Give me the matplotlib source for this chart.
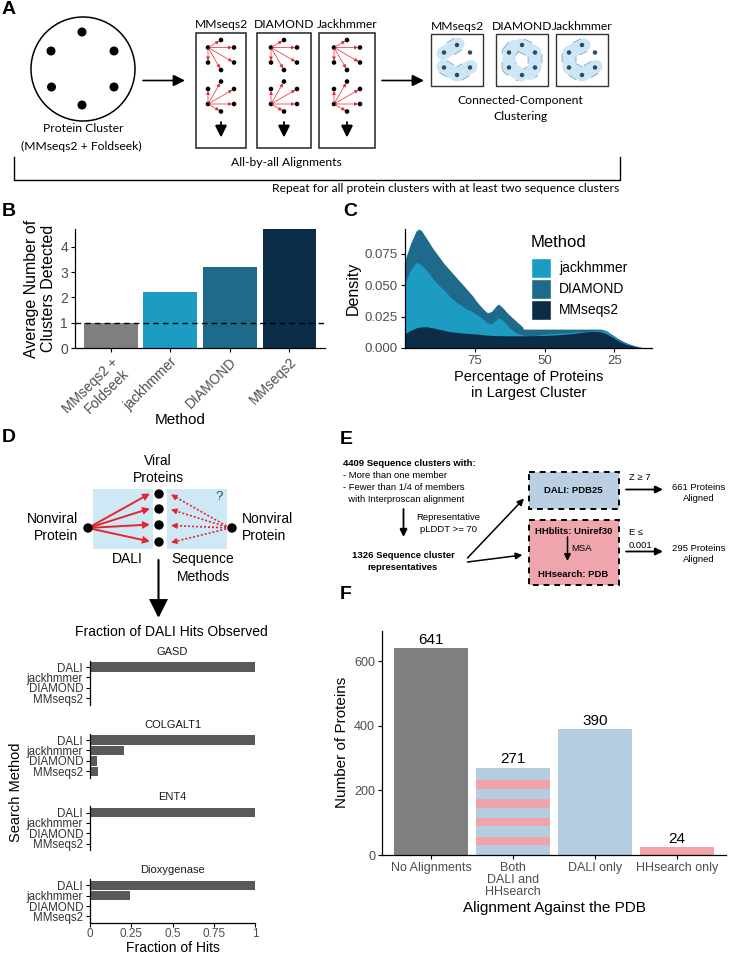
import numpy as np
import matplotlib.pyplot as plt
from matplotlib.patches import Rectangle, Circle, FancyArrowPatch

plt.rcParams['font.family'] = ['Liberation Sans', 'DejaVu Sans']

W, H = 732, 955

# panel B: average number of clusters
b_methods = ['MMseqs2 +\nFoldseek', 'jackhmmer', 'DIAMOND', 'MMseqs2']
b_values = [1.0, 2.23, 3.19, 4.71]

# panel C: density of percentage of proteins in largest cluster
c_pct = [100, 98, 96, 95, 94, 92, 90, 88, 86, 84, 82, 80, 78, 76, 74, 72, 70.5, 69,
         67.5, 66.5, 65, 63, 61, 59, 58, 57.5, 55, 50, 45, 40, 35, 32, 30, 28, 26, 24,
         22, 20, 18, 16, 14]
c_diamond = [.070, .083, .093, .0945, .093, .086, .079, .073, .067, .062, .057, .052,
             .047, .042, .036, .031, .028, .029, .033, .035, .032, .027, .023, .019,
             .017, .015, .015, .015, .015, .015, .015, .015, .015, .014, .011, .008,
             .0055, .0035, .002, .0008, 0]
c_jackhmmer = [.052, .062, .068, .067, .066, .061, .055, .050, .046, .041, .037, .034,
               .031, .029, .026, .023, .020, .019, .022, .024, .022, .017, .013, .011,
               .0105, .010, .0098, .011, .0118, .0125, .013, .0138, .014, .0135, .010,
               .007, .0045, .003, .0018, .0007, 0]
c_mmseqs2 = [.0115, .014, .016, .0165, .0168, .0168, .016, .015, .014, .013, .0125,
             .012, .0117, .0113, .011, .0105, .0102, .010, .0099, .0098, .0098, .0097,
             .0097, .0097, .0097, .0097, .0098, .010, .0105, .0115, .0128, .0133, .013,
             .0115, .009, .0062, .004, .0025, .0014, .0006, 0]

# panel D: fraction of DALI hits observed
d_genes = ['GASD', 'COLGALT1', 'ENT4', 'Dioxygenase']
d_methods = ['DALI', 'jackhmmer', 'DIAMOND', 'MMseqs2']
d_fractions = [[1, 0, 0, 0],
               [1, 0.204, 0.042, 0.05],
               [1, 0, 0, 0],
               [1, 0.242, 0, 0]]

# panel F: alignment against the PDB
f_cats = ['No Alignments', 'Both\nDALI and\nHHsearch', 'DALI only', 'HHsearch only']
f_values = [641, 271, 390, 24]

gray = '#7f7f7f'
c_jack = '#1c9cc3'
c_diam = '#1d6a8b'
c_mm = '#0b2d47'
blue_l = '#b4cde1'
pink = '#f0a3ab'
red = '#e5262c'
tick_col = '#4d4d4d'

fig = plt.figure(figsize=(W / 100, H / 100), dpi=100)


def px_axes(x0, y0, x1, y1):
    return fig.add_axes([x0 / W, 1 - y1 / H, (x1 - x0) / W, (y1 - y0) / H])


def classic(ax, fs):
    for s in ['top', 'right']:
        ax.spines[s].set_visible(False)
    for s in ['left', 'bottom']:
        ax.spines[s].set_linewidth(0.9)
    ax.tick_params(length=3, width=0.8, labelsize=fs, labelcolor=tick_col, pad=2)


# overlay for diagrams and panel letters
ov = fig.add_axes([0, 0, 1, 1], zorder=5)
ov.set_xlim(0, W)
ov.set_ylim(H, 0)
ov.axis('off')


def arrow(x0, y0, x1, y1, color='k', lw=1.2, ms=10, hl=0.5, hw=0.25):
    ov.add_patch(FancyArrowPatch((x0, y0), (x1, y1),
                                 arrowstyle=f'-|>,head_length={hl},head_width={hw}',
                                 mutation_scale=ms, color=color, lw=lw,
                                 shrinkA=0, shrinkB=0, joinstyle='miter'))


def letter(x, y, s):
    ov.text(x, y, s, fontsize=14, fontweight='bold', ha='left', va='center')


fa = dict(family=['Lato', 'DejaVu Sans'], fontsize=8.7, ha='center', va='center')

# ---------------- Panel A ----------------
letter(2, 10, 'A')
ov.add_patch(Circle((83, 69), 52, fill=False, lw=1.1, ec='k'))
for (x, y) in [(82, 32), (51, 51), (114, 51), (51.5, 87), (114, 87), (82, 105)]:
    ov.add_patch(Circle((x, y), 3.8, color='k'))
ov.text(83, 129, 'Protein Cluster', **fa)
ov.text(81, 146, '(MMseqs2 + Foldseek)', **fa)
arrow(143, 80.5, 185, 80.5, lw=1.2, ms=14)

hexo = [(0, -15), (-13, -7.5), (13, -7.5), (-13, 7.5), (13, 7.5), (0, 15)]
for x0, x1, lab in [(196, 246, 'MMseqs2'), (257, 311, 'DIAMOND'), (319, 375, 'Jackhmmer')]:
    cx = (x0 + x1) / 2
    ov.add_patch(Rectangle((x0, 33), x1 - x0, 115, fill=False, lw=1.1, ec='#222222'))
    ov.text(cx, 25, lab, **fa)
    for cy, src in [(55, 1), (96.5, 3)]:
        pts = [(cx + dx, cy + dy) for dx, dy in hexo]
        for (x, y) in pts:
            ov.add_patch(Circle((x, y), 1.6, color='k'))
        sx, sy = pts[src]
        for j, (x, y) in enumerate(pts):
            if j == src:
                continue
            ov.add_patch(FancyArrowPatch((sx, sy), (x, y), arrowstyle='-|>,head_length=0.5,head_width=0.25',
                                         mutation_scale=4, color=red, lw=0.5,
                                         shrinkA=1, shrinkB=1.5))
    arrow(cx, 122, cx, 137.5, lw=1.3, ms=12, hl=0.6, hw=0.3)

arrow(382, 80.5, 424, 80.5, lw=1.2, ms=14)

blob_fill = '#cde6f5'
blob_edge = '#7f9db5'


def blob(pts, w=9.5):
    xs = [p[0] for p in pts]
    ys = [p[1] for p in pts]
    ov.plot(xs, ys, color=blob_edge, lw=w + 1.1, solid_capstyle='round',
            solid_joinstyle='round', ls=(0, (0.6, 0.6)))
    ov.plot(xs, ys, color=blob_fill, lw=w, solid_capstyle='round', solid_joinstyle='round')


for x0, lab in [(431, 'MMseqs2'), (496, 'DIAMOND'), (556, 'Jackhmmer')]:
    cx, cy = x0 + 26, 60
    ov.add_patch(Rectangle((x0, 34), 52, 52, fill=False, lw=1.0, ec='#333333'))
    ov.text(cx, 26, lab, **fa)
    T, LT, RT, LB, RB, B = [(cx + dx, cy + dy) for dx, dy in hexo]
    if lab == 'MMseqs2':
        blob([(T[0] + 1, T[1] - 1), (LT[0] - 1, LT[1] + 1)])
        blob([RT, (RT[0] + 0.01, RT[1])], w=6.5)
        blob([(LB[0] - 1, LB[1] - 1), B, (RB[0] + 1, RB[1] - 1)])
    elif lab == 'DIAMOND':
        blob([(LT[0] + 5, LT[1] - 6), LT, LB, (B[0] - 1, B[1])])
        blob([(T[0] - 1, T[1]), RT, RB, (RB[0] - 5, RB[1] + 6)])
    else:
        blob([(T[0] + 2, T[1]), LT, LB, B, (RB[0] + 1, RB[1] - 1)])
        blob([RT, (RT[0] + 0.01, RT[1])], w=6.5)
    for (x, y) in [T, LT, RT, LB, RB, B]:
        ov.add_patch(Circle((x, y), 1.5, color='#2a4a5e', zorder=6))

ov.text(520, 100, 'Connected-Component', **fa)
ov.text(520, 116, 'Clustering', **fa)
ov.text(286, 163, 'All-by-all Alignments', **fa)
ov.plot([14, 14, 620, 620], [157, 180, 180, 157], color='k', lw=1.0)
ov.text(619, 189, 'Repeat for all protein clusters with at least two sequence clusters',
        **{**fa, 'ha': 'right'})

# ---------------- Panel B ----------------
letter(2, 211, 'B')
ax_b = px_axes(75, 229, 325, 348)
xb = np.arange(1, len(b_values) + 1)
ax_b.bar(xb, b_values, width=0.9, color=[gray, c_jack, c_diam, c_mm])
ax_b.axhline(1, color='k', lw=1.0, ls=(0, (4, 3)))
ax_b.set_xlim(0.4, 4.6)
ax_b.set_ylim(0, max(b_values))
classic(ax_b, 10)
ax_b.set_yticks([0, 1, 2, 3, 4])
ax_b.set_xticks(xb, b_methods, rotation=45, ha='right', rotation_mode='anchor')
ax_b.set_ylabel('Average Number of\nClusters Detected', fontsize=11.5, labelpad=3)
ax_b.set_xlabel('Method', fontsize=11, va='center')
ax_b.xaxis.set_label_coords((180 - 75) / 250, -(420 - 348) / 119)

# ---------------- Panel C ----------------
letter(343, 211, 'C')
ax_c = px_axes(405, 229, 652, 348)
ax_c.fill_between(c_pct, c_diamond, color=c_diam, lw=0)
ax_c.fill_between(c_pct, c_jackhmmer, color=c_jack, lw=0)
ax_c.fill_between(c_pct, c_mmseqs2, color=c_mm, lw=0)
ax_c.set_xlim(100, 11.5)
ax_c.set_ylim(0, max(c_diamond))
classic(ax_c, 9.5)
ax_c.set_xticks([75, 50, 25])
ax_c.set_yticks([0, 0.025, 0.05, 0.075], ['0.000', '0.025', '0.050', '0.075'])
ax_c.set_ylabel('Density', fontsize=11.5, labelpad=3)
ax_c.set_xlabel('Percentage of Proteins\nin Largest Cluster', fontsize=10.5, labelpad=2)

ov.text(531, 242, 'Method', fontsize=12, ha='left', va='center')
for k, (lab, col) in enumerate([('jackhmmer', c_jack), ('DIAMOND', c_diam), ('MMseqs2', c_mm)]):
    ov.add_patch(Rectangle((531, 258 + 21 * k), 19.5, 20, fc=col, ec='white', lw=1))
    ov.text(559, 268 + 21 * k, lab, fontsize=10, ha='left', va='center')

# ---------------- Panel D ----------------
letter(2, 437, 'D')
blue_bg = '#cfe8f6'
ov.add_patch(Rectangle((93, 489), 60, 60, fc=blue_bg, ec='none', zorder=1))
ov.add_patch(Rectangle((167, 489), 60, 60, fc=blue_bg, ec='none', zorder=1))
fd = dict(fontsize=10, va='center')
ov.text(158, 461, 'Viral', ha='center', **fd)
ov.text(158, 478, 'Proteins', ha='center', **fd)
ov.text(78, 519, 'Nonviral', ha='right', **fd)
ov.text(78, 536, 'Protein', ha='right', **fd)
ov.text(242, 519, 'Nonviral', ha='left', **fd)
ov.text(242, 536, 'Protein', ha='left', **fd)
ov.text(127, 559, 'DALI', ha='center', **fd)
ov.text(203, 559, 'Sequence', ha='center', **fd)
ov.text(203, 577, 'Methods', ha='center', **fd)
ov.text(219, 497, '?', ha='center', fontsize=9.5, va='center', color='#24466a')
vy = [494, 509, 525, 542]
for y in vy:
    ov.add_patch(Circle((159, y), 4, color='k', zorder=4))
    arrow(88, 528, 150, y - 0.5, color=red, lw=1.4, ms=7)
    ex, ey = 171, y + 0.5
    ov.plot([230, ex + 4], [528, ey + (528 - ey) * 4 / 59], color=red, lw=1.2, ls=(0, (1.2, 1.2)))
    arrow(ex + 5, ey + (528 - ey) * 5 / 59, ex, ey, color=red, lw=0.8, ms=7)
ov.add_patch(Circle((88, 528), 4, color='k', zorder=4))
ov.add_patch(Circle((232, 528), 4, color='k', zorder=4))
arrow(158.5, 560, 158.5, 618, lw=1.5, ms=16, hl=0.7, hw=0.35)

fig.text(171 / W, 1 - 632 / H, 'Fraction of DALI Hits Observed', fontsize=10,
         ha='center', va='center')
tops = [660.8, 733.8, 806.3, 879]
for k, (gene, vals) in enumerate(zip(d_genes, d_fractions)):
    ax = px_axes(90, tops[k], 255, tops[k] + 43.7)
    ax.barh(np.arange(len(vals)), vals, height=0.9, color='#595959')
    ax.set_xlim(0, 1)
    ax.set_ylim(3.6, -0.6)
    classic(ax, 8.3)
    ax.set_yticks(np.arange(4), d_methods)
    ax.tick_params(axis='y', labelcolor='#333333')
    ax.set_title(gene, fontsize=8, pad=4.5, color='#1a1a1a')
    if k < 3:
        ax.spines['bottom'].set_visible(False)
        ax.set_xticks([])
    else:
        ax.set_xticks([0, 0.25, 0.5, 0.75, 1], ['0', '0.25', '0.5', '0.75', '1'])
        ax.tick_params(axis='x', labelsize=8.5, pad=1)
        ax.set_xlabel('Fraction of Hits', fontsize=10, va='center')
        ax.xaxis.set_label_coords(0.5, -(948 - tops[k] - 43.7) / 43.7)
fig.text(16 / W, 1 - 792 / H, 'Search Method', fontsize=10.5, rotation=90,
         ha='center', va='center')

# ---------------- Panel E ----------------
letter(340, 439, 'E')
fe = dict(fontsize=6.8, va='center')
ov.text(343, 463, '4409 Sequence clusters with:', ha='left', fontweight='bold', **fe)
ov.text(343, 475, '- More than one member', ha='left', **fe)
ov.text(343, 487, '- Fewer than 1/4 of members', ha='left', **fe)
ov.text(343, 499, '  with Interproscan alignment', ha='left', **fe)
arrow(403.5, 509, 403.5, 537, lw=1.3, ms=9)
ov.text(448, 517, 'Representative', ha='center', **fe)
ov.text(448, 529, 'pLDDT >= 70', ha='center', **fe)
ov.text(403, 555, '1326 Sequence cluster', ha='center', fontweight='bold', **fe)
ov.text(403, 567, 'representatives', ha='center', fontweight='bold', **fe)
arrow(467.5, 558, 524, 498.5, lw=1.1, ms=8)
arrow(467.5, 562, 522.5, 555, lw=1.1, ms=8)
ov.add_patch(Rectangle((528.5, 471.5), 90, 37, fc='#bacfe1', ec='k', lw=1.4, ls=(0, (3, 2.5))))
ov.add_patch(Rectangle((528.5, 519.5), 90, 65.5, fc='#eea5ab', ec='k', lw=1.4, ls=(0, (3, 2.5))))
ov.text(573.5, 490, 'DALI: PDB25', ha='center', fontweight='bold', **fe)
ov.text(573.5, 531, 'HHblits: Uniref30', ha='center', fontweight='bold', **fe)
ov.text(573.5, 574, 'HHsearch: PDB', ha='center', fontweight='bold', **fe)
arrow(567.5, 537, 567.5, 561, lw=1.1, ms=8)
ov.text(571, 548, 'MSA', ha='left', **fe)
arrow(626, 489.5, 663, 489.5, lw=1.3, ms=9)
arrow(626, 551.5, 663, 551.5, lw=1.3, ms=9)
ov.text(629, 477, 'Z ≥ 7', ha='left', **fe)
ov.text(629, 532, 'E ≤', ha='left', **fe)
ov.text(629, 545.5, '0.001', ha='left', **fe)
ov.text(699, 487, '661 Proteins', ha='center', **fe)
ov.text(699, 498, 'Aligned', ha='center', **fe)
ov.text(699, 548, '295 Proteins', ha='center', **fe)
ov.text(699, 559, 'Aligned', ha='center', **fe)

# ---------------- Panel F ----------------
letter(340, 594, 'F')
ax_f = px_axes(382, 630.7, 726, 855)
xf = np.arange(1, len(f_values) + 1)
ax_f.bar(xf, f_values, width=0.9, color=[gray, blue_l, blue_l, pink])
# striped fill for the bar aligned by both methods
stripe_bottoms = np.arange(31, f_values[1] - 26, 58)
ax_f.bar(np.full(len(stripe_bottoms), xf[1]), 26, bottom=stripe_bottoms, width=0.9, color=pink)
for x, v in zip(xf, f_values):
    ax_f.annotate(str(v), (x, v), xytext=(0, 1), textcoords='offset points',
                  ha='center', va='bottom', fontsize=11)
ax_f.set_xlim(0.4, 4.6)
ax_f.set_ylim(0, 695)
classic(ax_f, 9)
ax_f.set_yticks([0, 200, 400, 600])
ax_f.set_xticks(xf, f_cats, linespacing=1.0)
ax_f.set_ylabel('Number of Proteins', fontsize=11, labelpad=4)
ax_f.set_xlabel('Alignment Against the PDB', fontsize=11, labelpad=2)

fig.savefig('out.png', dpi=100)
